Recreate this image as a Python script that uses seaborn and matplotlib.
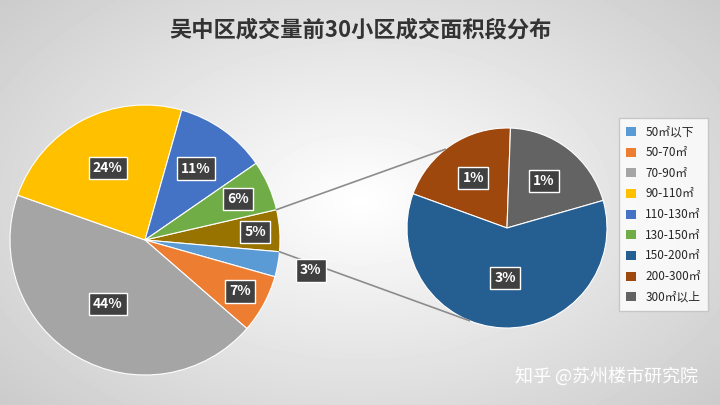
import numpy as np
import matplotlib
matplotlib.use("Agg")
import matplotlib.pyplot as plt
import seaborn as sns
from matplotlib.patches import Patch

sns.set_theme(style="white")
plt.rcParams['font.family'] = ['Noto Sans CJK SC', 'DejaVu Sans']

main_labels = ["其他", "50㎡以下", "50-70㎡", "70-90㎡", "90-110㎡", "110-130㎡", "130-150㎡"]
main_values = [5, 3, 7, 44, 24, 11, 6]
main_colors = ["#997300", "#5B9BD5", "#ED7D31", "#A5A5A5", "#FFC000", "#4472C4", "#70AD47"]
sub_labels = ["200-300㎡", "300㎡以上", "150-200㎡"]
sub_values = [1, 1, 3]
sub_colors = ["#9E480E", "#636363", "#255E91"]
legend_labels = ["50㎡以下", "50-70㎡", "70-90㎡", "90-110㎡", "110-130㎡", "130-150㎡",
                 "150-200㎡", "200-300㎡", "300㎡以上"]
legend_colors = ["#5B9BD5", "#ED7D31", "#A5A5A5", "#FFC000", "#4472C4", "#70AD47",
                 "#255E91", "#9E480E", "#636363"]

fig = plt.figure(figsize=(7.2, 4.05), dpi=100)
bg = fig.add_axes([0, 0, 1, 1])
yy, xx = np.mgrid[0:405, 0:720]
d = np.sqrt(((xx - 360) / 520) ** 2 + ((yy - 200) / 330) ** 2)
bg.imshow(1 - 0.22 * np.clip(d, 0, 1), cmap="gray", vmin=0, vmax=1, aspect="auto")
bg.axis("off")

ax = fig.add_axes([0, 0, 1, 1])
ax.set_xlim(0, 720); ax.set_ylim(0, 405); ax.axis("off"); ax.patch.set_alpha(0)

mc, mr = (145, 165), 135
sc, sr = (507, 177), 100
w1, _ = ax.pie(main_values, colors=main_colors, startangle=13, counterclock=False,
               center=mc, radius=mr, wedgeprops=dict(edgecolor="white", linewidth=0.8))
w2, _ = ax.pie(sub_values, colors=sub_colors, startangle=160, counterclock=False,
               center=sc, radius=sr, wedgeprops=dict(edgecolor="white", linewidth=0.8))
ax.set_xlim(0, 720); ax.set_ylim(0, 405); ax.set_aspect("equal")

box = dict(boxstyle="square,pad=0.3", fc="#404040", ec="white", lw=1)
def lab(w, c, r, frac, txt):
    t = np.deg2rad((w.theta1 + w.theta2) / 2)
    ax.text(c[0] + r * frac * np.cos(t), c[1] + r * frac * np.sin(t), txt,
            ha="center", va="center", color="white", fontsize=10, fontweight="bold", bbox=box)

fr = [0.82, 1.25, 0.8, 0.55, 0.6, 0.65, 0.75]
for w, v, f in zip(w1, main_values, fr):
    lab(w, mc, mr, f, f"{v}%")
for w, v, f in zip(w2, sub_values, [0.6, 0.6, 0.5]):
    lab(w, sc, sr, f, f"{v}%")

for a1, a2 in [(13, 128), (-5, 248)]:
    p1 = (mc[0] + mr * np.cos(np.deg2rad(a1)), mc[1] + mr * np.sin(np.deg2rad(a1)))
    p2 = (sc[0] + sr * np.cos(np.deg2rad(a2)), sc[1] + sr * np.sin(np.deg2rad(a2)))
    ax.plot([p1[0], p2[0]], [p1[1], p2[1]], color="#8C8C8C", lw=1.2)

fig.text(0.5, 0.925, "吴中区成交量前30小区成交面积段分布", ha="center", va="center",
         fontsize=16, color="#333333", fontweight="bold")
handles = [Patch(fc=c, ec="none") for c in legend_colors]
leg = fig.legend(handles, legend_labels, loc="center left", bbox_to_anchor=(0.852, 0.47),
                 fontsize=8.5, frameon=True, handlelength=0.8, handleheight=0.8,
                 labelspacing=0.65, borderpad=0.6, fancybox=False, edgecolor="#BFBFBF")
leg.get_frame().set_facecolor("white")
fig.text(0.97, 0.07, "知乎 @苏州楼市研究院", ha="right", va="center", fontsize=13, color="white")
fig.savefig("out.png", dpi=100)
